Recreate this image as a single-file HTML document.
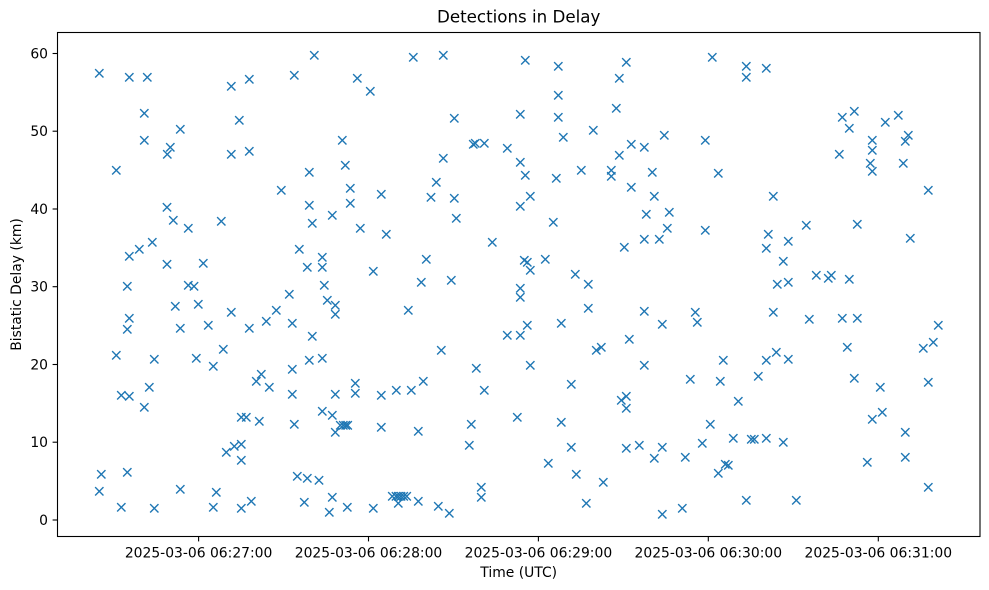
<!DOCTYPE html>
<html><head><meta charset="utf-8"><style>
html,body{margin:0;padding:0;background:#fff;}
svg{display:block;}
text{font-family:"DejaVu Sans","Liberation Sans",sans-serif;fill:#000;}
</style></head><body>
<svg width="989" height="590" viewBox="0 0 989 590" xmlns="http://www.w3.org/2000/svg">
<defs><path id="m" d="M-4.17,-4.17L4.17,4.17M-4.17,4.17L4.17,-4.17" stroke="#1f77b4" stroke-width="1.39" fill="none"/></defs>
<rect x="0" y="0" width="989" height="590" fill="#fff"/>
<text x="518.7" y="22.7" font-size="16.7" text-anchor="middle">Detections in Delay</text>
<g id="pts">
<use href="#m" x="99.3" y="73.3"/><use href="#m" x="129.3" y="77.3"/><use href="#m" x="147.3" y="77.3"/><use href="#m" x="144.3" y="113.3"/><use href="#m" x="180.3" y="129.3"/><use href="#m" x="144.3" y="140.3"/><use href="#m" x="170.3" y="147.3"/><use href="#m" x="167.3" y="154.3"/><use href="#m" x="116.3" y="170.3"/><use href="#m" x="167" y="207.3"/><use href="#m" x="173.3" y="220.3"/><use href="#m" x="188.3" y="228.3"/><use href="#m" x="152.3" y="242.3"/><use href="#m" x="139.3" y="249.3"/><use href="#m" x="129.3" y="256.3"/><use href="#m" x="167" y="264.3"/><use href="#m" x="127.3" y="286.3"/><use href="#m" x="188.3" y="285.3"/><use href="#m" x="194" y="286.3"/><use href="#m" x="175.3" y="306.3"/><use href="#m" x="129.3" y="318.3"/><use href="#m" x="127.3" y="329.3"/><use href="#m" x="180.3" y="328.3"/><use href="#m" x="116.3" y="355.3"/><use href="#m" x="154.3" y="359.3"/><use href="#m" x="149.3" y="387.3"/><use href="#m" x="121.3" y="395.3"/><use href="#m" x="129.3" y="396.3"/><use href="#m" x="144.3" y="407.3"/><use href="#m" x="101.3" y="474.3"/><use href="#m" x="127.3" y="472.3"/><use href="#m" x="99.3" y="491.3"/><use href="#m" x="180.3" y="489.3"/><use href="#m" x="121.3" y="507.3"/><use href="#m" x="154.3" y="508.3"/>
<use href="#m" x="314.3" y="55.3"/><use href="#m" x="294.3" y="75.3"/><use href="#m" x="249.3" y="79.3"/><use href="#m" x="231.3" y="86.3"/><use href="#m" x="239.3" y="120.3"/><use href="#m" x="231.3" y="154.3"/><use href="#m" x="249.3" y="151.3"/><use href="#m" x="309.3" y="172.3"/><use href="#m" x="281.3" y="190.3"/><use href="#m" x="309.3" y="205.3"/><use href="#m" x="312.3" y="223.3"/><use href="#m" x="221.3" y="221.3"/><use href="#m" x="299.3" y="249.3"/><use href="#m" x="307.3" y="267.3"/><use href="#m" x="203.3" y="263.3"/><use href="#m" x="198.3" y="304.3"/><use href="#m" x="289.3" y="294.3"/><use href="#m" x="231.3" y="312.3"/><use href="#m" x="276.3" y="310.3"/><use href="#m" x="266.3" y="321.3"/><use href="#m" x="208.3" y="325.3"/><use href="#m" x="249.3" y="328.3"/><use href="#m" x="292.3" y="323.3"/><use href="#m" x="312.3" y="336.3"/><use href="#m" x="223.3" y="349.3"/><use href="#m" x="196.3" y="358.3"/><use href="#m" x="213.3" y="366.3"/><use href="#m" x="309.3" y="360.3"/><use href="#m" x="261.3" y="374.3"/><use href="#m" x="256.3" y="381.3"/><use href="#m" x="269.3" y="387.3"/><use href="#m" x="292.3" y="369.3"/><use href="#m" x="292.3" y="394.3"/><use href="#m" x="241.3" y="417.3"/><use href="#m" x="246.3" y="417.3"/><use href="#m" x="259.3" y="421.3"/><use href="#m" x="294.3" y="424.3"/><use href="#m" x="226.3" y="452.3"/><use href="#m" x="234.3" y="446.3"/><use href="#m" x="241.3" y="444.3"/><use href="#m" x="241.3" y="460.3"/><use href="#m" x="297.3" y="476.3"/><use href="#m" x="307.3" y="478.3"/><use href="#m" x="319" y="480.3"/><use href="#m" x="216.3" y="492.3"/><use href="#m" x="213.3" y="507.3"/><use href="#m" x="241.3" y="508.3"/><use href="#m" x="251.3" y="501.3"/><use href="#m" x="304.3" y="502.3"/>
<use href="#m" x="413.3" y="57.3"/><use href="#m" x="443.3" y="55.3"/><use href="#m" x="357.3" y="78.3"/><use href="#m" x="370.3" y="91.3"/><use href="#m" x="342.3" y="140.3"/><use href="#m" x="345.3" y="165.3"/><use href="#m" x="443.3" y="158.3"/><use href="#m" x="436.3" y="182.3"/><use href="#m" x="350.3" y="188.3"/><use href="#m" x="381.3" y="194.3"/><use href="#m" x="431" y="197.3"/><use href="#m" x="350.3" y="203.3"/><use href="#m" x="332.3" y="215.3"/><use href="#m" x="360.3" y="228.3"/><use href="#m" x="386.3" y="234.3"/><use href="#m" x="322.3" y="257.3"/><use href="#m" x="322.3" y="267.3"/><use href="#m" x="426.3" y="259.3"/><use href="#m" x="373.3" y="271.3"/><use href="#m" x="421.3" y="282.3"/><use href="#m" x="324.3" y="285.3"/><use href="#m" x="327.3" y="300.3"/><use href="#m" x="335.3" y="305.3"/><use href="#m" x="335.3" y="314.3"/><use href="#m" x="408.3" y="310.3"/><use href="#m" x="322.3" y="358.3"/><use href="#m" x="441.3" y="350.3"/><use href="#m" x="355.3" y="383.3"/><use href="#m" x="355.3" y="393.3"/><use href="#m" x="335.3" y="394.3"/><use href="#m" x="381.3" y="395.3"/><use href="#m" x="396.3" y="390.3"/><use href="#m" x="411.3" y="390.3"/><use href="#m" x="423.3" y="381.3"/><use href="#m" x="322.3" y="411.3"/><use href="#m" x="332.3" y="415.3"/><use href="#m" x="340.3" y="425.3"/><use href="#m" x="343.3" y="425.3"/><use href="#m" x="345.7" y="425.3"/><use href="#m" x="347.7" y="425.3"/><use href="#m" x="335.3" y="432.3"/><use href="#m" x="381.3" y="427.3"/><use href="#m" x="418.3" y="431.3"/><use href="#m" x="332.3" y="497.3"/><use href="#m" x="329.3" y="512.3"/><use href="#m" x="347.3" y="507.3"/><use href="#m" x="373.3" y="508.3"/><use href="#m" x="392.3" y="496.3"/><use href="#m" x="396" y="496.3"/><use href="#m" x="398.3" y="496.3"/><use href="#m" x="401" y="496.3"/><use href="#m" x="403.7" y="496.3"/><use href="#m" x="406.7" y="496.3"/><use href="#m" x="398.3" y="503.3"/><use href="#m" x="418.3" y="501.3"/><use href="#m" x="438.3" y="506.3"/><use href="#m" x="449.3" y="513.3"/>
<use href="#m" x="525.3" y="60.3"/><use href="#m" x="558.3" y="66.3"/><use href="#m" x="558.3" y="95.3"/><use href="#m" x="454.3" y="118.3"/><use href="#m" x="520.3" y="114.3"/><use href="#m" x="558.3" y="117.3"/><use href="#m" x="563.3" y="137.3"/><use href="#m" x="473.3" y="144.3"/><use href="#m" x="475.3" y="143.3"/><use href="#m" x="484.3" y="143.3"/><use href="#m" x="507.3" y="148.3"/><use href="#m" x="520.3" y="162.3"/><use href="#m" x="525.3" y="175.3"/><use href="#m" x="556.3" y="178.3"/><use href="#m" x="454.3" y="198.3"/><use href="#m" x="530.3" y="196.3"/><use href="#m" x="520.3" y="206.3"/><use href="#m" x="456.3" y="218.3"/><use href="#m" x="553.3" y="222.3"/><use href="#m" x="492.3" y="242.3"/><use href="#m" x="524.3" y="260.3"/><use href="#m" x="527.3" y="262.3"/><use href="#m" x="545.3" y="259.3"/><use href="#m" x="530.3" y="270.3"/><use href="#m" x="451.3" y="280.3"/><use href="#m" x="575.3" y="274.3"/><use href="#m" x="520.3" y="288.3"/><use href="#m" x="520.3" y="297.3"/><use href="#m" x="527.3" y="325.3"/><use href="#m" x="561.3" y="323.3"/><use href="#m" x="507.3" y="335.3"/><use href="#m" x="520.3" y="335.3"/><use href="#m" x="476.3" y="368.3"/><use href="#m" x="530.3" y="365.3"/><use href="#m" x="484.3" y="390.3"/><use href="#m" x="571.3" y="384.3"/><use href="#m" x="517.3" y="417.3"/><use href="#m" x="471.3" y="424.3"/><use href="#m" x="561.3" y="422.3"/><use href="#m" x="469.3" y="445.3"/><use href="#m" x="571.3" y="447.3"/><use href="#m" x="548.3" y="463.3"/><use href="#m" x="576.3" y="474.3"/><use href="#m" x="481.3" y="487.3"/><use href="#m" x="481.3" y="497.3"/>
<use href="#m" x="626.3" y="62.3"/><use href="#m" x="619.3" y="78.3"/><use href="#m" x="616.3" y="108.3"/><use href="#m" x="593.3" y="130.3"/><use href="#m" x="664.3" y="135.3"/><use href="#m" x="705.3" y="140.3"/><use href="#m" x="631.3" y="144.3"/><use href="#m" x="644.3" y="147.3"/><use href="#m" x="619.3" y="155.3"/><use href="#m" x="581.3" y="170.3"/><use href="#m" x="611.3" y="170.3"/><use href="#m" x="611.3" y="176.3"/><use href="#m" x="652.3" y="172.3"/><use href="#m" x="631.3" y="187.3"/><use href="#m" x="654.3" y="196.3"/><use href="#m" x="646.3" y="214.3"/><use href="#m" x="669.3" y="212.3"/><use href="#m" x="667.3" y="228.3"/><use href="#m" x="705.3" y="230.3"/><use href="#m" x="644.3" y="239.3"/><use href="#m" x="659.3" y="239.3"/><use href="#m" x="624.3" y="247.3"/><use href="#m" x="588.3" y="284.3"/><use href="#m" x="588.3" y="308.3"/><use href="#m" x="644.3" y="311.3"/><use href="#m" x="695.3" y="312.3"/><use href="#m" x="697.3" y="322.3"/><use href="#m" x="662.3" y="324.3"/><use href="#m" x="629.3" y="339.3"/><use href="#m" x="596.3" y="350.3"/><use href="#m" x="601.3" y="347.3"/><use href="#m" x="644.3" y="365.3"/><use href="#m" x="690.3" y="379.3"/><use href="#m" x="621.3" y="400.3"/><use href="#m" x="626.3" y="396.3"/><use href="#m" x="626.3" y="408.3"/><use href="#m" x="710.3" y="424.3"/><use href="#m" x="626.3" y="448.3"/><use href="#m" x="639.3" y="445.3"/><use href="#m" x="662.3" y="447.3"/><use href="#m" x="654.3" y="458.3"/><use href="#m" x="685.3" y="457.3"/><use href="#m" x="702.3" y="443.3"/><use href="#m" x="603.3" y="482.3"/><use href="#m" x="586.3" y="503.3"/><use href="#m" x="662.3" y="514.3"/><use href="#m" x="682.3" y="508.3"/>
<use href="#m" x="712.3" y="57.3"/><use href="#m" x="746.3" y="66.3"/><use href="#m" x="746.3" y="77.3"/><use href="#m" x="766.3" y="68.3"/><use href="#m" x="718.3" y="173.3"/><use href="#m" x="773.3" y="196.3"/><use href="#m" x="806.3" y="225.3"/><use href="#m" x="768.3" y="234.3"/><use href="#m" x="766.3" y="248.3"/><use href="#m" x="788.3" y="241.3"/><use href="#m" x="783.3" y="261.3"/><use href="#m" x="816.3" y="275.3"/><use href="#m" x="828.3" y="278.3"/><use href="#m" x="831.3" y="275.3"/><use href="#m" x="777.3" y="284.3"/><use href="#m" x="788.3" y="282.3"/><use href="#m" x="773.3" y="312.3"/><use href="#m" x="809.3" y="319.3"/><use href="#m" x="723.3" y="360.3"/><use href="#m" x="766.3" y="360.3"/><use href="#m" x="776.3" y="352.3"/><use href="#m" x="788.3" y="359.3"/><use href="#m" x="758.3" y="376.3"/><use href="#m" x="720.3" y="381.3"/><use href="#m" x="738.3" y="401.3"/><use href="#m" x="733.3" y="438.3"/><use href="#m" x="751.3" y="439.3"/><use href="#m" x="754.3" y="439.3"/><use href="#m" x="766.3" y="438.3"/><use href="#m" x="783.3" y="442.3"/><use href="#m" x="718.3" y="473.3"/><use href="#m" x="725.3" y="464.3"/><use href="#m" x="728.3" y="465.3"/><use href="#m" x="746.3" y="500.3"/><use href="#m" x="796.3" y="500.3"/>
<use href="#m" x="842.3" y="117.3"/><use href="#m" x="854.3" y="111.3"/><use href="#m" x="849.3" y="128.3"/><use href="#m" x="885.3" y="122.3"/><use href="#m" x="898.3" y="115.3"/><use href="#m" x="872.3" y="140.3"/><use href="#m" x="908.3" y="135.3"/><use href="#m" x="905.3" y="141.3"/><use href="#m" x="872.3" y="150.3"/><use href="#m" x="839.3" y="154.3"/><use href="#m" x="870.3" y="163.3"/><use href="#m" x="872.3" y="171.3"/><use href="#m" x="903.3" y="163.3"/><use href="#m" x="928.3" y="190.3"/><use href="#m" x="857.3" y="224.3"/><use href="#m" x="910.3" y="238.3"/><use href="#m" x="849.3" y="279.3"/><use href="#m" x="842.3" y="318.3"/><use href="#m" x="857.3" y="318.3"/><use href="#m" x="938.3" y="325.3"/><use href="#m" x="847.3" y="347.3"/><use href="#m" x="923.3" y="348.3"/><use href="#m" x="933.3" y="342.3"/><use href="#m" x="854.3" y="378.3"/><use href="#m" x="880.3" y="387.3"/><use href="#m" x="928.3" y="382.3"/><use href="#m" x="872.3" y="419.3"/><use href="#m" x="882.3" y="412.3"/><use href="#m" x="905.3" y="432.3"/><use href="#m" x="867.3" y="462.3"/><use href="#m" x="905.3" y="457.3"/><use href="#m" x="928.3" y="487.3"/>
</g>
<rect x="57.5" y="32.5" width="922.5" height="504" fill="none" stroke="#000" stroke-width="1.1"/>
<g stroke="#000" stroke-width="1.1">
<line x1="52.6" y1="520" x2="57.5" y2="520"/>
<line x1="52.6" y1="442.2" x2="57.5" y2="442.2"/>
<line x1="52.6" y1="364.5" x2="57.5" y2="364.5"/>
<line x1="52.6" y1="286.7" x2="57.5" y2="286.7"/>
<line x1="52.6" y1="209" x2="57.5" y2="209"/>
<line x1="52.6" y1="131.2" x2="57.5" y2="131.2"/>
<line x1="52.6" y1="53.5" x2="57.5" y2="53.5"/>
<line x1="198.6" y1="536.5" x2="198.6" y2="541.4"/>
<line x1="368.5" y1="536.5" x2="368.5" y2="541.4"/>
<line x1="538.4" y1="536.5" x2="538.4" y2="541.4"/>
<line x1="708.3" y1="536.5" x2="708.3" y2="541.4"/>
<line x1="878.3" y1="536.5" x2="878.3" y2="541.4"/>
</g>
<g font-size="13.9" text-anchor="end">
<text x="48" y="525">0</text>
<text x="48" y="447.2">10</text>
<text x="48" y="369.5">20</text>
<text x="48" y="291.7">30</text>
<text x="48" y="214">40</text>
<text x="48" y="136.2">50</text>
<text x="48" y="58.5">60</text>
</g>
<g font-size="13.9" text-anchor="middle">
<text x="198.6" y="557.3">2025-03-06 06:27:00</text>
<text x="368.5" y="557.3">2025-03-06 06:28:00</text>
<text x="538.4" y="557.3">2025-03-06 06:29:00</text>
<text x="708.3" y="557.3">2025-03-06 06:30:00</text>
<text x="878.3" y="557.3">2025-03-06 06:31:00</text>
</g>
<text x="518.7" y="577" font-size="13.9" text-anchor="middle">Time (UTC)</text>
<text x="21" y="284.5" font-size="13.9" text-anchor="middle" transform="rotate(-90 21 284.5)">Bistatic Delay (km)</text>
</svg>
</body></html>
